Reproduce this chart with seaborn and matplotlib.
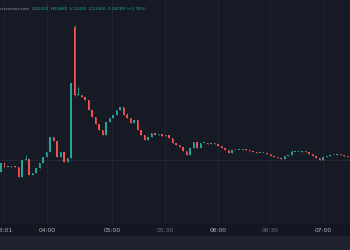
import matplotlib
matplotlib.use("Agg")
import matplotlib.pyplot as plt
from matplotlib.patches import Rectangle
import seaborn as sns
import numpy as np

# ---- data (prices) ----
opens = [2.176, 2.266, 2.226, 2.226, 2.236, 2.226, 2.126, 2.296, 2.306, 2.146,
         2.166, 2.216, 2.266, 2.326, 2.376, 2.526, 2.486, 2.326, 2.376, 2.276,
         2.316, 3.626, 2.946, 2.946, 2.926, 2.896, 2.796, 2.726, 2.656, 2.596,
         2.546, 2.676, 2.716, 2.746, 2.796, 2.826, 2.746, 2.716, 2.666, 2.696,
         2.596, 2.546, 2.496, 2.526, 2.566, 2.546, 2.556, 2.536, 2.546, 2.516,
         2.466, 2.446, 2.426, 2.386, 2.346, 2.416, 2.476, 2.416, 2.466, 2.466,
         2.456, 2.466, 2.456, 2.436, 2.416, 2.396, 2.366, 2.396, 2.396, 2.396,
         2.406, 2.396, 2.386, 2.376, 2.366, 2.366, 2.366, 2.356, 2.336, 2.326,
         2.316, 2.306, 2.336, 2.346, 2.376, 2.376, 2.376, 2.386, 2.376, 2.356,
         2.336, 2.316, 2.296, 2.326, 2.336, 2.346, 2.346, 2.356, 2.346, 2.336]
closes = [2.266, 2.226, 2.226, 2.236, 2.226, 2.126, 2.296, 2.306, 2.146, 2.166,
          2.216, 2.266, 2.326, 2.376, 2.526, 2.486, 2.326, 2.376, 2.276, 2.316,
          3.066, 2.946, 2.946, 2.926, 2.896, 2.796, 2.726, 2.656, 2.596, 2.546,
          2.676, 2.716, 2.746, 2.796, 2.826, 2.746, 2.716, 2.666, 2.696, 2.596,
          2.546, 2.496, 2.526, 2.566, 2.546, 2.556, 2.536, 2.546, 2.516, 2.466,
          2.446, 2.426, 2.386, 2.346, 2.416, 2.476, 2.416, 2.466, 2.466, 2.456,
          2.466, 2.456, 2.436, 2.416, 2.396, 2.366, 2.396, 2.396, 2.396, 2.406,
          2.396, 2.386, 2.376, 2.366, 2.366, 2.366, 2.356, 2.336, 2.326, 2.316,
          2.306, 2.336, 2.346, 2.376, 2.376, 2.376, 2.386, 2.376, 2.356, 2.336,
          2.316, 2.296, 2.326, 2.336, 2.346, 2.346, 2.356, 2.346, 2.336, 2.326]
# upper wicks that extend beyond the body
wick_highs = {7: 2.346, 21: 3.646, 22: 3.026, 36: 2.766, 83: 2.396}
wick_lows = {21: 2.936}

tick_labels = ["03:01", "04:00", "05:00", "05:30", "06:00", "06:30", "07:00"]
tick_index = [0.86, 13.14, 31.71, 46.86, 62.0, 76.86, 92.0]
tick_major = [True, True, True, False, True, False, True]

header_source = "dexscreener.com"
header_ohlc = [("O", "2.2430"), ("H", "2.3880"), ("L", "2.2430"), ("C", "2.3260")]
header_change = "0.08289 (+3.78%)"

# ---- style ----
BG = "#161a25"
BAND = "#131722"
STRIP = "#1e222d"
UP = "#26a69a"
DOWN = "#ef5350"
GRID = "#212532"

sns.set_theme(style="dark", rc={"axes.facecolor": BG, "figure.facecolor": BAND,
                                "axes.edgecolor": BG})

fig = plt.figure(figsize=(3.5, 2.5), dpi=100)
fig.patches.append(Rectangle((0, 0), 1, 14 / 250, transform=fig.transFigure,
                             facecolor=STRIP, edgecolor="none", zorder=0))
ax = fig.add_axes([0, 26 / 250, 1, 224 / 250])

o = np.array(opens)
c = np.array(closes)
idx = np.arange(len(o))
hi = np.maximum(o, c)
lo = np.minimum(o, c)
for k, v in wick_highs.items():
    hi[k] = max(hi[k], v)
for k, v in wick_lows.items():
    lo[k] = min(lo[k], v)
colors = [UP if cc >= oo else DOWN for oo, cc in zip(o, c)]

ax.vlines(idx, lo, hi, colors=colors, linewidth=0.6, zorder=3)
heights = np.maximum(np.abs(c - o), 0.006)
ax.bar(idx, heights, bottom=np.minimum(o, c), width=0.45, color=colors,
       edgecolor="none", zorder=4)

ax.set_xlim(-0.2857, 99.714)
ax.set_ylim(1.656, 3.896)
for t in tick_index:
    ax.axvline(t, color=GRID, linewidth=0.6, zorder=1)
ax.axhline(2.296, color="#262a36", linewidth=0.7, zorder=1)

ax.set_xticks(tick_index)
ax.set_xticklabels(tick_labels, fontsize=4.3)
for lab, major in zip(ax.get_xticklabels(), tick_major):
    lab.set_color("#b2b5be" if major else "#6f7380")
ax.tick_params(axis="x", length=0, pad=2.6)
ax.set_yticks([])
ax.grid(False)
for s in ax.spines.values():
    s.set_visible(False)

# header line
ytxt = 1 - 9 / 250
fs = 3.0
fig.text(30 / 350, ytxt, header_source, ha="right", va="center",
         fontsize=fs, color="#9598a1")
xpos = [32, 51, 70, 89]
for (lbl, val), xp in zip(header_ohlc, xpos):
    fig.text(xp / 350, ytxt, lbl, ha="left", va="center", fontsize=fs, color="#9598a1")
    fig.text((xp + 2.8) / 350, ytxt, val, ha="left", va="center", fontsize=fs, color=UP)
fig.text(108 / 350, ytxt, header_change, ha="left", va="center", fontsize=fs, color=UP)

fig.savefig("out.png", dpi=100, facecolor=BAND)
